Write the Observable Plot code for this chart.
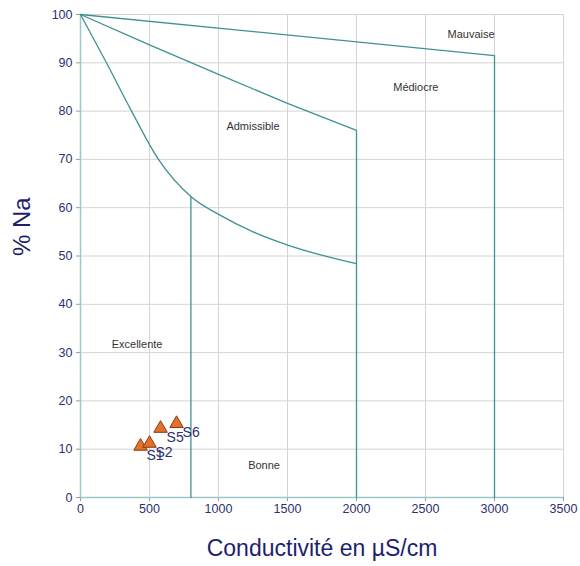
<!DOCTYPE html>
<html><head><meta charset="utf-8">
<script src="https://cdn.jsdelivr.net/npm/d3@7"></script>
<script src="https://cdn.jsdelivr.net/npm/@observablehq/plot@0.6"></script>
<style>body{margin:0;background:#fff;font-family:"Liberation Sans",Arial,sans-serif}</style>
</head><body><div id="chart"></div>
<script>
// Boundary curves of the Wilcox diagram
const mauvaiseX = [0, 3000, 3000];
const mauvaiseY = [100, 91.5, 0];
const mediocreX = [0, 500, 1000, 1500, 2000, 2000];
const mediocreY = [100, 93.7, 87.6, 81.6, 76, 0];
const admissibleX = [0, 188, 370, 565, 804, 1014, 1250, 1507, 2000];
const admissibleY = [100, 90, 80, 70, 62.2, 58.4, 55, 52.2, 48.4];
const excellenteX = [800, 800];
const excellenteY = [62.3, 0];

// Zone labels
const zoneNames = ["Mauvaise", "Médiocre", "Admissible", "Excellente", "Bonne"];
const zoneX = [2830, 2430, 1250, 410, 1330];
const zoneY = [95.9, 84.9, 76.8, 31.7, 6.6];

// Samples
const sampleNames = ["S1", "S2", "S5", "S6"];
const sampleX = [435, 500, 580, 696];
const sampleY = [10.6, 11.2, 14.3, 15.3];

// Ticks
const xTicks = [0, 500, 1000, 1500, 2000, 2500, 3000, 3500];
const yTicks = [0, 10, 20, 30, 40, 50, 60, 70, 80, 90, 100];

const toPts = (xs, ys) => xs.map((x, i) => ({x, y: ys[i]}));
const zones = zoneNames.map((t, i) => ({t, x: zoneX[i], y: zoneY[i]}));
const samples = sampleNames.map((t, i) => ({t, x: sampleX[i], y: sampleY[i]}));

const lineColor = "#3f9292";
const navy = "#2e2f72";

const chart = Plot.plot({
  width: 580,
  height: 566,
  marginLeft: 80,
  marginRight: 17,
  marginTop: 14,
  marginBottom: 69,
  style: {fontFamily: "Liberation Sans, Arial, sans-serif", background: "#fff", overflow: "visible"},
  x: {domain: [0, 3500], ticks: xTicks},
  y: {domain: [0, 100], ticks: yTicks},
  marks: [
    Plot.gridX(xTicks, {stroke: "#d4d4d4", strokeOpacity: 1}),
    Plot.gridY(yTicks, {stroke: "#d4d4d4", strokeOpacity: 1}),
    Plot.axisX(xTicks, {tickSize: 4, tickPadding: 3, fontSize: 12.5, color: navy, stroke: "#999", label: null, tickFormat: d3.format("d")}),
    Plot.axisY(yTicks, {tickSize: 4, tickPadding: 4, fontSize: 12.5, color: navy, stroke: "#999", label: null, tickFormat: d3.format("d")}),
    Plot.ruleY([0], {stroke: "#9cc8cc", strokeWidth: 1.5}),
    Plot.ruleX([0], {stroke: "#9cc8cc", strokeWidth: 1.5}),
    Plot.line(toPts(mauvaiseX, mauvaiseY), {x: "x", y: "y", stroke: lineColor, strokeWidth: 1.3}),
    Plot.line(toPts(mediocreX, mediocreY), {x: "x", y: "y", stroke: lineColor, strokeWidth: 1.3}),
    Plot.line(toPts(admissibleX, admissibleY), {x: "x", y: "y", stroke: lineColor, strokeWidth: 1.3, curve: "monotone-x"}),
    Plot.line(toPts(excellenteX, excellenteY), {x: "x", y: "y", stroke: lineColor, strokeWidth: 1.3}),
    Plot.text(zones, {x: "x", y: "y", text: "t", fontSize: 11, fill: "#333"}),
    Plot.dot(samples, {x: "x", y: "y", symbol: "triangle", r: 5, fill: "#e3702b", stroke: "#8a3b12", strokeWidth: 1}),
    Plot.text(samples, {x: "x", y: "y", text: "t", dx: 6, dy: 9, textAnchor: "start", fontSize: 14, fill: navy}),
    Plot.text(["Conductivité en µS/cm"], {frameAnchor: "bottom", dy: 58, fontSize: 23, fill: "#1d1f6e"}),
    Plot.text(["% Na"], {frameAnchor: "left", dx: -58, rotate: -90, fontSize: 24, fill: "#1d1f6e"})
  ]
});
document.getElementById("chart").appendChild(chart);
</script>
</body></html>
